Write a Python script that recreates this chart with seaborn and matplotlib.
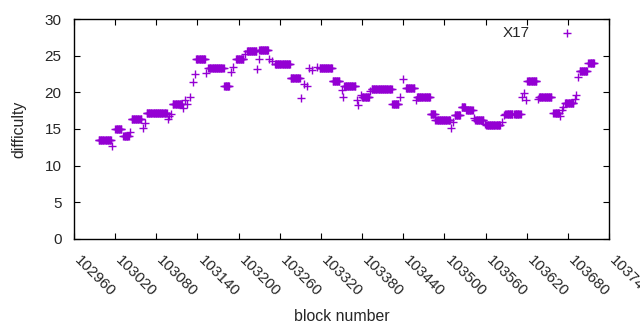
import numpy as np
import pandas as pd
import matplotlib
matplotlib.use("Agg")
import matplotlib.pyplot as plt
import seaborn as sns

# runs of consecutive blocks with the same difficulty
run_start = [102996, 103016, 103020, 103032, 103042, 103044, 103060, 103063, 103066, 103097,
             103099, 103101, 103104, 103119, 103122, 103125, 103129, 103133, 103137, 103138,
             103153, 103156, 103179, 103189, 103192, 103196, 103209, 103212, 103227, 103229,
             103230, 103245, 103249, 103253, 103276, 103291, 103295, 103299, 103303, 103307,
             103314, 103318, 103337, 103350, 103352, 103354, 103372, 103374, 103379, 103380,
             103392, 103394, 103424, 103435, 103440, 103444, 103458, 103460, 103480, 103487,
             103510, 103512, 103515, 103525, 103532, 103543, 103545, 103559, 103561, 103584,
             103587, 103589, 103602, 103613, 103616, 103619, 103621, 103636, 103638, 103659,
             103668, 103672, 103673, 103676, 103690, 103692, 103695, 103697, 103710]
run_end = [103014, 103016, 103029, 103040, 103042, 103058, 103060, 103063, 103095, 103097,
           103099, 103101, 103117, 103119, 103122, 103125, 103129, 103133, 103137, 103151,
           103153, 103178, 103186, 103189, 103192, 103207, 103209, 103226, 103227, 103229,
           103243, 103245, 103249, 103275, 103289, 103291, 103295, 103299, 103303, 103307,
           103314, 103336, 103347, 103350, 103352, 103370, 103372, 103374, 103379, 103390,
           103392, 103423, 103433, 103435, 103440, 103456, 103458, 103479, 103486, 103508,
           103510, 103512, 103523, 103530, 103541, 103543, 103557, 103559, 103581, 103584,
           103587, 103599, 103611, 103613, 103616, 103619, 103634, 103636, 103656, 103667,
           103668, 103672, 103673, 103688, 103690, 103692, 103695, 103708, 103718]
run_level = [13.5, 12.7, 15.0, 14.0, 14.6, 16.3, 15.2, 15.8, 17.2, 16.3,
             16.8, 17.1, 18.4, 17.9, 18.9, 18.4, 19.4, 21.4, 22.5, 24.6,
             22.6, 23.3, 20.9, 22.8, 23.5, 24.6, 25.2, 25.6, 23.2, 24.5,
             25.8, 24.6, 24.3, 23.8, 22.0, 19.2, 21.1, 20.8, 23.3, 23.0,
             23.5, 23.3, 21.5, 20.3, 19.4, 20.9, 19.0, 18.3, 19.7, 19.4,
             20.2, 20.45, 18.4, 19.4, 21.8, 20.55, 19.0, 19.3, 17.0, 16.2,
             15.1, 15.9, 16.9, 18.0, 17.6, 16.45, 16.2, 15.7, 15.5, 16.0,
             16.9, 17.05, 17.0, 19.3, 19.85, 19.0, 21.55, 19.1, 19.3, 17.2,
             16.8, 17.6, 18.0, 18.6, 19.05, 19.7, 22.05, 22.9, 23.95]

x_ticks = list(range(102960, 103741, 60))
y_ticks = [0, 5, 10, 15, 20, 25, 30]

blocks, diffs = [], []
for a, b, v in zip(run_start, run_end, run_level):
    for blk in range(a, b + 1):
        blocks.append(blk)
        diffs.append(v)
df = pd.DataFrame({"block": blocks, "difficulty": diffs})

sns.set_style("ticks")
plt.rcParams["font.family"] = ["Liberation Sans", "DejaVu Sans"]

fig = plt.figure(figsize=(6.4, 3.3), dpi=100)
ax = fig.add_axes([0.1156, 0.2758, 0.836, 0.6666])

sns.scatterplot(data=df, x="block", y="difficulty", marker="+", s=36,
                color="#9400d3", linewidth=1.0, label="X17", ax=ax)

ax.set_xlim(102960, 103740)
ax.set_ylim(0, 30)
ax.set_xticks(x_ticks)
ax.set_xticklabels([str(t) for t in x_ticks], rotation=-45, ha="left", va="baseline",
                   rotation_mode="anchor", fontsize=11)
ax.set_yticks(y_ticks)
ax.set_yticklabels([str(t) for t in y_ticks], fontsize=11)
ax.tick_params(axis="x", direction="in", length=4, width=0.8, top=True, pad=15.5, color="black")
ax.tick_params(axis="y", direction="in", length=4, width=0.8, right=True, pad=9, color="black")
for sp in ax.spines.values():
    sp.set_visible(True)
    sp.set_color("black")
    sp.set_linewidth(1.0)

ax.set_xlabel("block number", fontsize=11.4)
ax.set_ylabel("difficulty", fontsize=11.4)
ax.xaxis.set_label_coords(0.5, -0.317)
ax.yaxis.set_label_coords(-0.089, 0.5)

ax.legend(loc="upper right", bbox_to_anchor=(0.975, 1.03), frameon=False,
          markerfirst=False, fontsize=11, handletextpad=1.4, handlelength=2.0)

fig.savefig("out.png", dpi=100)
